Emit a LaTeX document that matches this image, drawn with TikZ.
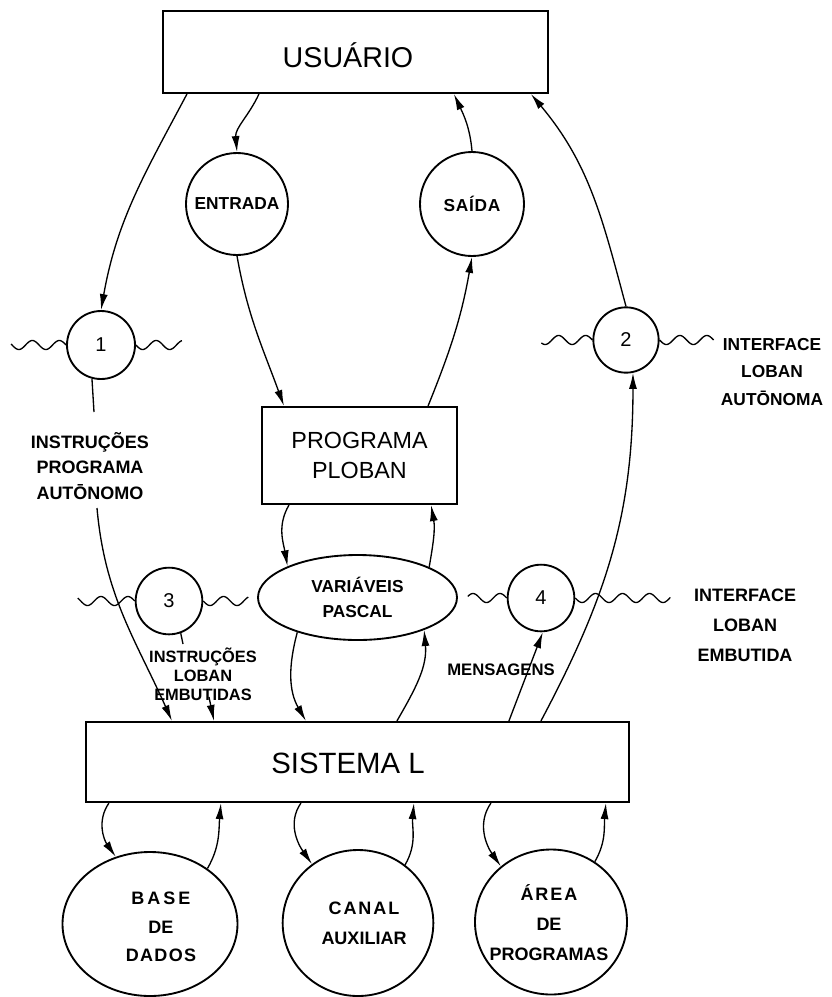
\documentclass[tikz,border=0pt]{standalone}
\usepackage{fontspec}
\setmainfont{Liberation Sans}
\usetikzlibrary{arrows.meta,calc,shapes.geometric}

\begin{document}
\begin{tikzpicture}[x=0.75pt,y=-0.75pt,
  box/.style={draw,line width=1.6pt,inner sep=0pt},
  bubble/.style={draw,circle,line width=1.4pt,inner sep=0pt},
  oval/.style={draw,ellipse,line width=1.4pt,inner sep=0pt},
  flow/.style={line width=1pt,-{Latex[length=12pt,width=6pt]}},
  plain/.style={line width=1pt},
  wave/.style={line width=1pt},
  big/.style={font=\fontsize{21.5}{26}\selectfont},
  mid/.style={font=\fontsize{17.5}{23}\selectfont,align=center},
  tag/.style={font=\bfseries\fontsize{13}{19}\selectfont,align=center},
  num/.style={font=\fontsize{15}{18}\selectfont},
]
\useasboundingbox (0,0) rectangle (832,997);

% ---- boxes ----
\node[box,minimum width=288.75pt,minimum height=61.5pt] (usr) at (355.5,52) {};
\node[big] (usrt) at (348,55) {USUÁRIO};
\node[box,minimum width=146.25pt,minimum height=72.75pt,mid] (prog) at (359.5,455.5) {PROGRAMA\\PLOBAN};
\node[box,minimum width=407.25pt,minimum height=60pt] (sis) at (357.5,762) {};
\node[big,font=\fontsize{22}{26}\selectfont] (sist) at (348,763) {SISTEMA L};

% ---- data flows ----
\node[bubble,minimum size=76.5pt,tag] (entrada) at (237,204) {ENTRADA};
\node[bubble,minimum size=78pt,tag] (saida) at (472,204) {S\kern.5pt A\kern.5pt Í\kern.5pt D\kern.5pt A};
\node[oval,minimum width=149.25pt,minimum height=63.75pt,tag,font=\bfseries\fontsize{13}{19}\selectfont] (var) at (357.5,597.5) {VARIÁVEIS\\PASCAL};

% ---- interface circles ----
\node[bubble,minimum size=51pt,num] (c1) at (101,345) {1};
\node[bubble,minimum size=49pt,num] (c2) at (626,340) {2};
\node[bubble,minimum size=50pt,num] (c3) at (169,601) {3};
\node[bubble,minimum size=50pt,num] (c4) at (541,598) {4};

% ---- stores ----
\node[oval,minimum width=131.25pt,minimum height=108pt] (base) at (150,924) {};
\node[oval,minimum width=113pt,minimum height=109.5pt] (canal) at (358,923) {};
\node[oval,minimum width=114pt,minimum height=108.75pt] (area) at (551,922) {};
\node[tag,font=\bfseries\fontsize{13.5}{21.4}\selectfont] (baset) at (161,927) {B\,A\,S\,E\\DE\\D\kern1pt A\kern1pt D\kern1pt O\kern1pt S};
\node[tag,font=\bfseries\fontsize{13.5}{22.5}\selectfont] (canalt) at (364,923) {C\kern1.5pt A\kern1.5pt N\kern1.5pt A\kern1.5pt L\\AUXILIAR};
\node[tag,font=\bfseries\fontsize{13.5}{22.5}\selectfont] (areat) at (549,923) {Á\kern1.5pt R\kern1.5pt E\kern1.5pt A\\DE\\PROGRAMAS};

% ---- labels ----
\node[tag,font=\bfseries\fontsize{13.5}{19}\selectfont] (l1) at (90,466) {INSTRUÇÕES\\PROGRAMA\\AUTŌNOMO};
\node[tag,font=\bfseries\fontsize{13}{20.6}\selectfont] (l2) at (772,372) {INTERFACE\\LOBAN\\AUTŌNOMA};
\node[tag,font=\bfseries\fontsize{12.3}{14.3}\selectfont] (l3) at (203,674) {INSTRUÇÕES\\LOBAN\\EMBUTIDAS};
\node[tag,font=\bfseries\fontsize{12.5}{19}\selectfont] (msg) at (501,670) {MENSAGENS};
\node[tag,font=\bfseries\fontsize{13.5}{22.5}\selectfont] (l4) at (745,625) {INTERFACE\\LOBAN\\EMBUTIDA};

\coordinate (t1a) at (94,412);
\coordinate (t1b) at (97,508);
\coordinate (t3a) at (183,644);
\coordinate (t3b) at (209,697);

% ---- connectors ----
\draw[flow] ($(usr.south west)+(25,0)$) to[out=242,in=80] (c1.north);
\draw[flow] ($(usr.south west)+(97,0)$) to[out=245,in=95] (entrada.north);
\draw[flow] (saida.north) to[out=95,in=-65] ($(usr.south west)+(292,0)$);
\draw[flow] (c2.north) to[out=105,in=-50] ($(usr.south west)+(369,0)$);
\draw[flow] (entrada.south) to[out=-80,in=110] ($(prog.north west)+(23,0)$);
\draw[flow] ($(prog.north east)+(-30,0)$) to[out=68,in=-100] (saida.south);
\draw[plain] (c1.255) -- (t1a);
\draw[flow] (t1b) to[out=-85,in=114] ($(sis.north west)+(87,0)$);
\draw[plain] (c3.290) -- (t3a);
\draw[flow] (t3b) -- ($(sis.north west)+(129,0)$);
\draw[flow] ($(prog.south west)+(28,0)$) to[out=-120,in=100] (var.156);
\draw[flow] (var.23) to[out=80,in=-80] ($(prog.south east)+(-27,0)$);
\draw[flow] (var.210) to[out=-105,in=120] ($(sis.north west)+(221,0)$);
\draw[flow] ($(sis.north west)+(312,0)$) to[out=60,in=-85] (var.334);
\draw[flow] ($(sis.north west)+(424,0)$) -- (c4.-87);
\draw[flow] ($(sis.north west)+(456,0)$) to[out=62,in=-90] (c2.-78);

\draw[flow] ($(sis.south west)+(24,0)$) to[out=-125,in=125] (base.117);
\draw[flow] (base.44) to[out=60,in=-95] ($(sis.south west)+(136,0)$);
\draw[flow] ($(sis.south west)+(216,0)$) to[out=-125,in=125] (canal.128);
\draw[flow] (canal.51) to[out=60,in=-95] ($(sis.south west)+(329,0)$);
\draw[flow] ($(sis.south west)+(406,0)$) to[out=-125,in=125] (area.132);
\draw[flow] (area.54) to[out=60,in=-95] ($(sis.south west)+(521,0)$);

% ---- interface waves (wavelength 27 units) ----
\draw[wave,shift={(c1.west)}] plot[domain=0:-55,samples=60,smooth] (\x,{4.5*sin(13.333*\x)});
\draw[wave,shift={(c1.east)}] plot[domain=0:46,samples=60,smooth] (\x,{4.5*sin(13.333*\x)});
\draw[wave,shift={(c2.west)}] plot[domain=0:-51,samples=60,smooth] (\x,{4.5*sin(13.333*\x)});
\draw[wave,shift={(c2.east)}] plot[domain=0:54,samples=60,smooth] (\x,{4.5*sin(13.333*\x)});
\draw[wave,shift={(c3.west)}] plot[domain=0:-57,samples=60,smooth] (\x,{4.5*sin(13.333*\x)});
\draw[wave,shift={(c3.east)}] plot[domain=0:45,samples=60,smooth] (\x,{4.5*sin(13.333*\x)});
\draw[wave,shift={(c4.west)}] plot[domain=0:-39,samples=60,smooth] (\x,{4.5*sin(13.333*\x)});
\draw[wave,shift={(c4.east)}] plot[domain=0:95,samples=90,smooth] (\x,{4.5*sin(13.333*\x)});
\end{tikzpicture}
\end{document}
